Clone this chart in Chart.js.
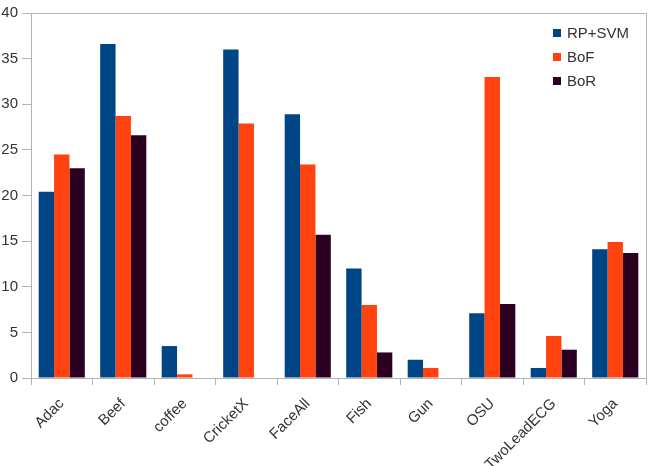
<!DOCTYPE html>
<html><head><meta charset="utf-8">
<script src="https://cdn.jsdelivr.net/npm/chart.js@4"></script>
<style>html,body{margin:0;padding:0;background:#fff}#wrap{width:660px;height:466px}</style>
</head><body><div id="wrap"><canvas id="c"></canvas></div>
<script>
const categories = ["Adac","Beef","coffee","CricketX","FaceAll","Fish","Gun","OSU","TwoLeadECG","Yoga"];
const rpSvm = [20.4, 36.6, 3.5, 36.0, 28.9, 12.0, 2.0, 7.1, 1.1, 14.1];
const bof   = [24.5, 28.7, 0.4, 27.9, 23.4, 8.0, 1.1, 33.0, 4.6, 14.9];
const bor   = [23.0, 26.6, 0, 0, 15.7, 2.8, 0, 8.1, 3.1, 13.7];
const seriesNames = ["RP+SVM","BoF","BoR"];
const yTicks = [0,5,10,15,20,25,30,35,40];
const colors = ["#004586","#ff420e","#2b0020"];
const FONT = '"Liberation Sans", Arial, sans-serif';

const frame = {
  id:'frame',
  afterDraw(chart){
    const {ctx, chartArea:a} = chart;
    ctx.save();
    ctx.strokeStyle = '#b3b3b3'; ctx.lineWidth = 1;
    ctx.beginPath();
    ctx.moveTo(a.left, a.top+0.5); ctx.lineTo(a.right+0.5, a.top+0.5); ctx.lineTo(a.right+0.5, a.bottom);
    ctx.stroke();
    ctx.font = '15px ' + FONT;
    ctx.textBaseline = 'middle';
    chart.data.datasets.forEach((d,i)=>{
      const y = 33 + i*24;
      ctx.fillStyle = d.backgroundColor;
      ctx.fillRect(553, y-4, 8, 8);
      ctx.fillStyle = '#333';
      ctx.fillText(d.label, 567, y+1);
    });
    ctx.restore();
  }
};

new Chart(document.getElementById('c'), {
  type:'bar',
  data:{
    labels: categories,
    datasets: [rpSvm,bof,bor].map((v,i)=>({label:seriesNames[i], data:v, backgroundColor:colors[i], borderWidth:0, categoryPercentage:0.75, barPercentage:1.0}))
  },
  options:{
    responsive:true, maintainAspectRatio:false, animation:false,
    layout:{padding:{top:12,right:14,left:0,bottom:0}},
    plugins:{legend:{display:false}, tooltip:{enabled:false}},
    scales:{
      x:{
        grid:{display:true, drawOnChartArea:false, offset:true, tickLength:7, color:'#b3b3b3'},
        border:{color:'#b3b3b3'},
        ticks:{maxRotation:45, minRotation:45, color:'#333', font:{family:FONT, size:15}, padding:10},
        afterFit(s){ s.height = 88; }
      },
      y:{
        min:0, max:40,
        afterBuildTicks(s){ s.ticks = yTicks.map(v=>({value:v})); },
        grid:{display:true, drawOnChartArea:false, tickLength:9, color:'#b3b3b3'},
        border:{color:'#b3b3b3'},
        ticks:{color:'#333', font:{family:FONT, size:15}, padding:4},
        afterFit(s){ s.width = 31; }
      }
    }
  },
  plugins:[frame]
});
</script></body></html>
